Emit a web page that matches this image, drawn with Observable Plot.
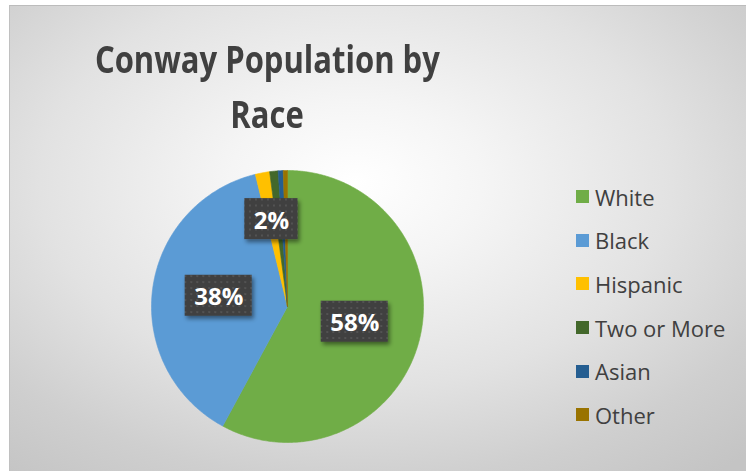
<!DOCTYPE html>
<html><head><meta charset="utf-8">
<script src="https://cdn.jsdelivr.net/npm/d3@7"></script>
<script src="https://cdn.jsdelivr.net/npm/@observablehq/plot@0.6"></script>
<style>
html,body{margin:0;padding:0;background:#fff;}
#wrap{position:relative;width:746px;height:471px;overflow:hidden;}
#bg{position:absolute;left:9px;top:5px;width:737px;height:466px;box-sizing:border-box;
  border-top:1px solid #bcbcbc;border-left:1px solid #c0c0c0;
  background:radial-gradient(ellipse 78% 80% at 47% 38%, #ffffff 0%, #f5f5f5 22%, #e2e2e2 55%, #cfcfcf 80%, #c4c4c4 100%);}
#title{position:absolute;left:-33px;width:600px;top:31px;text-align:center;
  font-family:"Open Sans",sans-serif;font-weight:bold;font-size:38px;line-height:55px;color:#404040;}
#title span{display:inline-block;white-space:nowrap;transform-origin:50% 50%;}
#chart{position:absolute;left:0;top:0;}
#legend{position:absolute;left:576px;top:175px;font-family:"Open Sans",sans-serif;font-size:22px;color:#404040;}
#legend .row{display:flex;align-items:center;height:43.6px;white-space:nowrap;}
#legend .sw{width:13px;height:13px;margin-right:6px;flex:none;}
</style></head>
<body>
<div id="wrap">
  <div id="bg"></div>
  <div id="title"><span id="t1">Conway Population by</span><br><span id="t2">Race</span></div>
  <div id="chart"></div>
  <div id="legend"></div>
</div>
<script>
const races = ["White", "Black", "Hispanic", "Two or More", "Asian", "Other"];
const shares = [57.9, 38.3, 1.7, 1.0, 0.6, 0.5];
const colors = ["#70AD47", "#5B9BD5", "#FFC000", "#43682B", "#255E91", "#997300"];

const data = races.map((r, i) => ({race: r, share: shares[i]}));
const arcs = d3.pie().sort(null).value(d => d.share)(data);

// slice outlines, from the pie angles
const pts = [];
for (const a of arcs) {
  const r = a.data.race;
  pts.push({race: r, x: 0, y: 0});
  const n = Math.max(2, Math.ceil((a.endAngle - a.startAngle) / 0.01));
  for (let k = 0; k <= n; k++) {
    const t = a.startAngle + (a.endAngle - a.startAngle) * k / n;
    pts.push({race: r, x: Math.sin(t), y: Math.cos(t)});
  }
  pts.push({race: r, x: 0, y: 0});
}

// data labels for slices large enough to show
const labelData = arcs.filter(a => a.data.share >= 1.5).map(a => {
  const m = (a.startAngle + a.endAngle) / 2;
  const f = a.data.share > 10 ? 0.51 : 0.64;
  return {race: a.data.race, x: f * Math.sin(m), y: f * Math.cos(m), text: Math.round(a.data.share) + "%"};
});

const chart = Plot.plot({
  width: 746, height: 471,
  marginLeft: 151, marginRight: 323, marginTop: 170, marginBottom: 29,
  x: {domain: [-1, 1], axis: null},
  y: {domain: [-1, 1], axis: null},
  color: {domain: races, range: colors},
  style: {background: "transparent", overflow: "visible"},
  marks: [
    Plot.line(pts, {x: "x", y: "y", z: "race", fill: "race", stroke: "race", strokeWidth: 0.6, curve: "linear"}),
    Plot.text(labelData, {x: "x", y: "y", text: "text", fill: "white", fontSize: 24, fontWeight: "bold",
      fontFamily: "'Open Sans', sans-serif"})
  ]
});
document.getElementById("chart").appendChild(chart);

// label boxes behind the texts
const ns = "http://www.w3.org/2000/svg";
const defs = document.createElementNS(ns, "defs");
defs.innerHTML = `
 <pattern id="dots" width="6" height="6" patternUnits="userSpaceOnUse">
   <rect width="6" height="6" fill="#404040"/><rect x="2" y="2" width="2" height="2" fill="#525252"/>
 </pattern>
 <filter id="shadow" x="-30%" y="-30%" width="160%" height="160%">
   <feDropShadow dx="2" dy="3" stdDeviation="2" flood-color="#000" flood-opacity="0.45"/>
 </filter>`;
chart.insertBefore(defs, chart.firstChild);
const textG = chart.querySelector('g[aria-label="text"]');
const boxG = document.createElementNS(ns, "g");
textG.parentNode.insertBefore(boxG, textG);
textG.querySelectorAll("text").forEach(t => {
  const b = t.getBBox();
  const px = 9, py = 5;
  const rect = document.createElementNS(ns, "rect");
  rect.setAttribute("x", b.x - px);
  rect.setAttribute("y", b.y - py + 1);
  rect.setAttribute("width", b.width + 2 * px);
  rect.setAttribute("height", b.height + 2 * py - 2);
  rect.setAttribute("fill", "url(#dots)");
  rect.setAttribute("filter", "url(#shadow)");
  const tr = t.getAttribute("transform");
  if (tr) rect.setAttribute("transform", tr);
  boxG.appendChild(rect);
});

// condensed title: fit first line to the reference width
const t1 = document.getElementById("t1"), t2 = document.getElementById("t2");
const k = 345 / t1.getBoundingClientRect().width;
t1.style.transform = `scaleX(${k})`;
t2.style.transform = `scaleX(${k})`;

// legend
const leg = d3.select("#legend");
races.forEach((r, i) => {
  const row = leg.append("div").attr("class", "row");
  row.append("div").attr("class", "sw").style("background", colors[i]);
  row.append("span").text(r);
});
</script>
</body></html>
